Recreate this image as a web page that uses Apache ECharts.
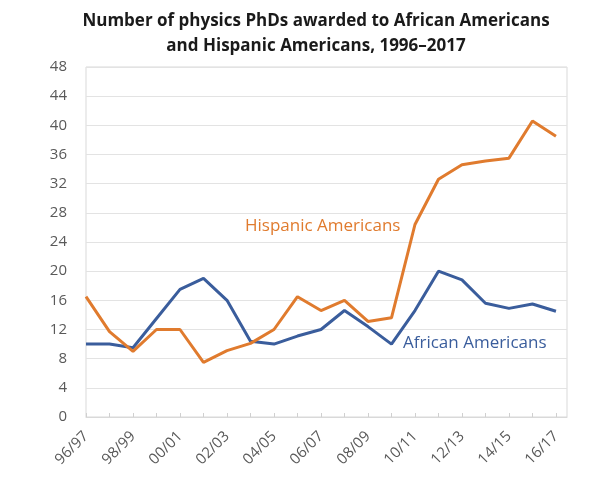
<!DOCTYPE html>
<html>
<head>
<meta charset="utf-8">
<script src="https://cdn.jsdelivr.net/npm/echarts@6/dist/echarts.min.js"></script>
<style>
html,body{margin:0;padding:0;background:#fff;}
#chart{width:600px;height:483px;}
</style>
</head>
<body>
<div id="chart"></div>
<script>
var years = ['96/97','97/98','98/99','99/00','00/01','01/02','02/03','03/04','04/05','05/06',
             '06/07','07/08','08/09','09/10','10/11','11/12','12/13','13/14','14/15','15/16','16/17'];
var african = [10.0,10.0,9.5,13.5,17.5,19.0,16.0,10.4,10.0,11.1,12.0,14.6,12.4,10.0,14.6,20.0,18.8,15.6,14.9,15.5,14.5];
var hispanic = [16.5,11.7,9.0,12.0,12.0,7.5,9.1,10.1,12.0,16.5,14.6,16.0,13.1,13.6,26.4,32.6,34.6,35.1,35.5,40.6,38.5];
var yTicks = [0,4,8,12,16,20,24,28,32,36,40,44,48];

function pairs(arr){
    var out = [];
    for(var i=0;i<arr.length;i++){ out.push([i,arr[i]]); }
    return out;
}

var chart = echarts.init(document.getElementById('chart'));
var option = {
    backgroundColor:'#fff',
    animation:false,
    title:{
        text:'Number of physics PhDs awarded to African Americans\nand Hispanic Americans, 1996\u20132017',
        left:311, top:4, textAlign:'center',
        textStyle:{fontFamily:'Open Sans',fontWeight:'bold',fontSize:17,color:'#1a1a1a',lineHeight:25}
    },
    grid:{left:86,top:67,right:33,bottom:66,show:true,borderColor:'#d9d9d9',borderWidth:1},
    xAxis:{
        type:'value', min:0, max:20.47, interval:1,
        axisLine:{lineStyle:{color:'#d9d9d9'}},
        axisTick:{show:true,length:4,inside:true,lineStyle:{color:'#d0d0d0'}},
        splitLine:{show:false},
        axisLabel:{
            rotate:45, color:'#595959', fontFamily:'Open Sans', fontSize:15, margin:17,
            showMaxLabel:false,
            formatter:function(v){ return (v%2===0 && years[v]) ? years[v] : ''; }
        }
    },
    yAxis:{
        type:'value', min:yTicks[0], max:yTicks[yTicks.length-1], interval:4,
        axisLine:{show:false}, axisTick:{show:false},
        splitLine:{lineStyle:{color:'#e3e3e3'}},
        axisLabel:{color:'#595959',fontFamily:'Open Sans',fontSize:15,margin:19}
    },
    series:[
        {name:'African Americans',type:'line',data:pairs(african),symbol:'none',
         lineStyle:{color:'#3a5d9c',width:3}},
        {name:'Hispanic Americans',type:'line',data:pairs(hispanic),symbol:'none',
         lineStyle:{color:'#e07b2e',width:3}}
    ],
    graphic:[
        {type:'text',left:245,top:218,style:{text:'Hispanic Americans',fill:'#e07b2e',font:'17px "Open Sans"'}},
        {type:'text',left:403,top:335,style:{text:'African Americans',fill:'#3a5d9c',font:'17px "Open Sans"'}}
    ]
};
chart.setOption(option);
</script>
</body>
</html>
